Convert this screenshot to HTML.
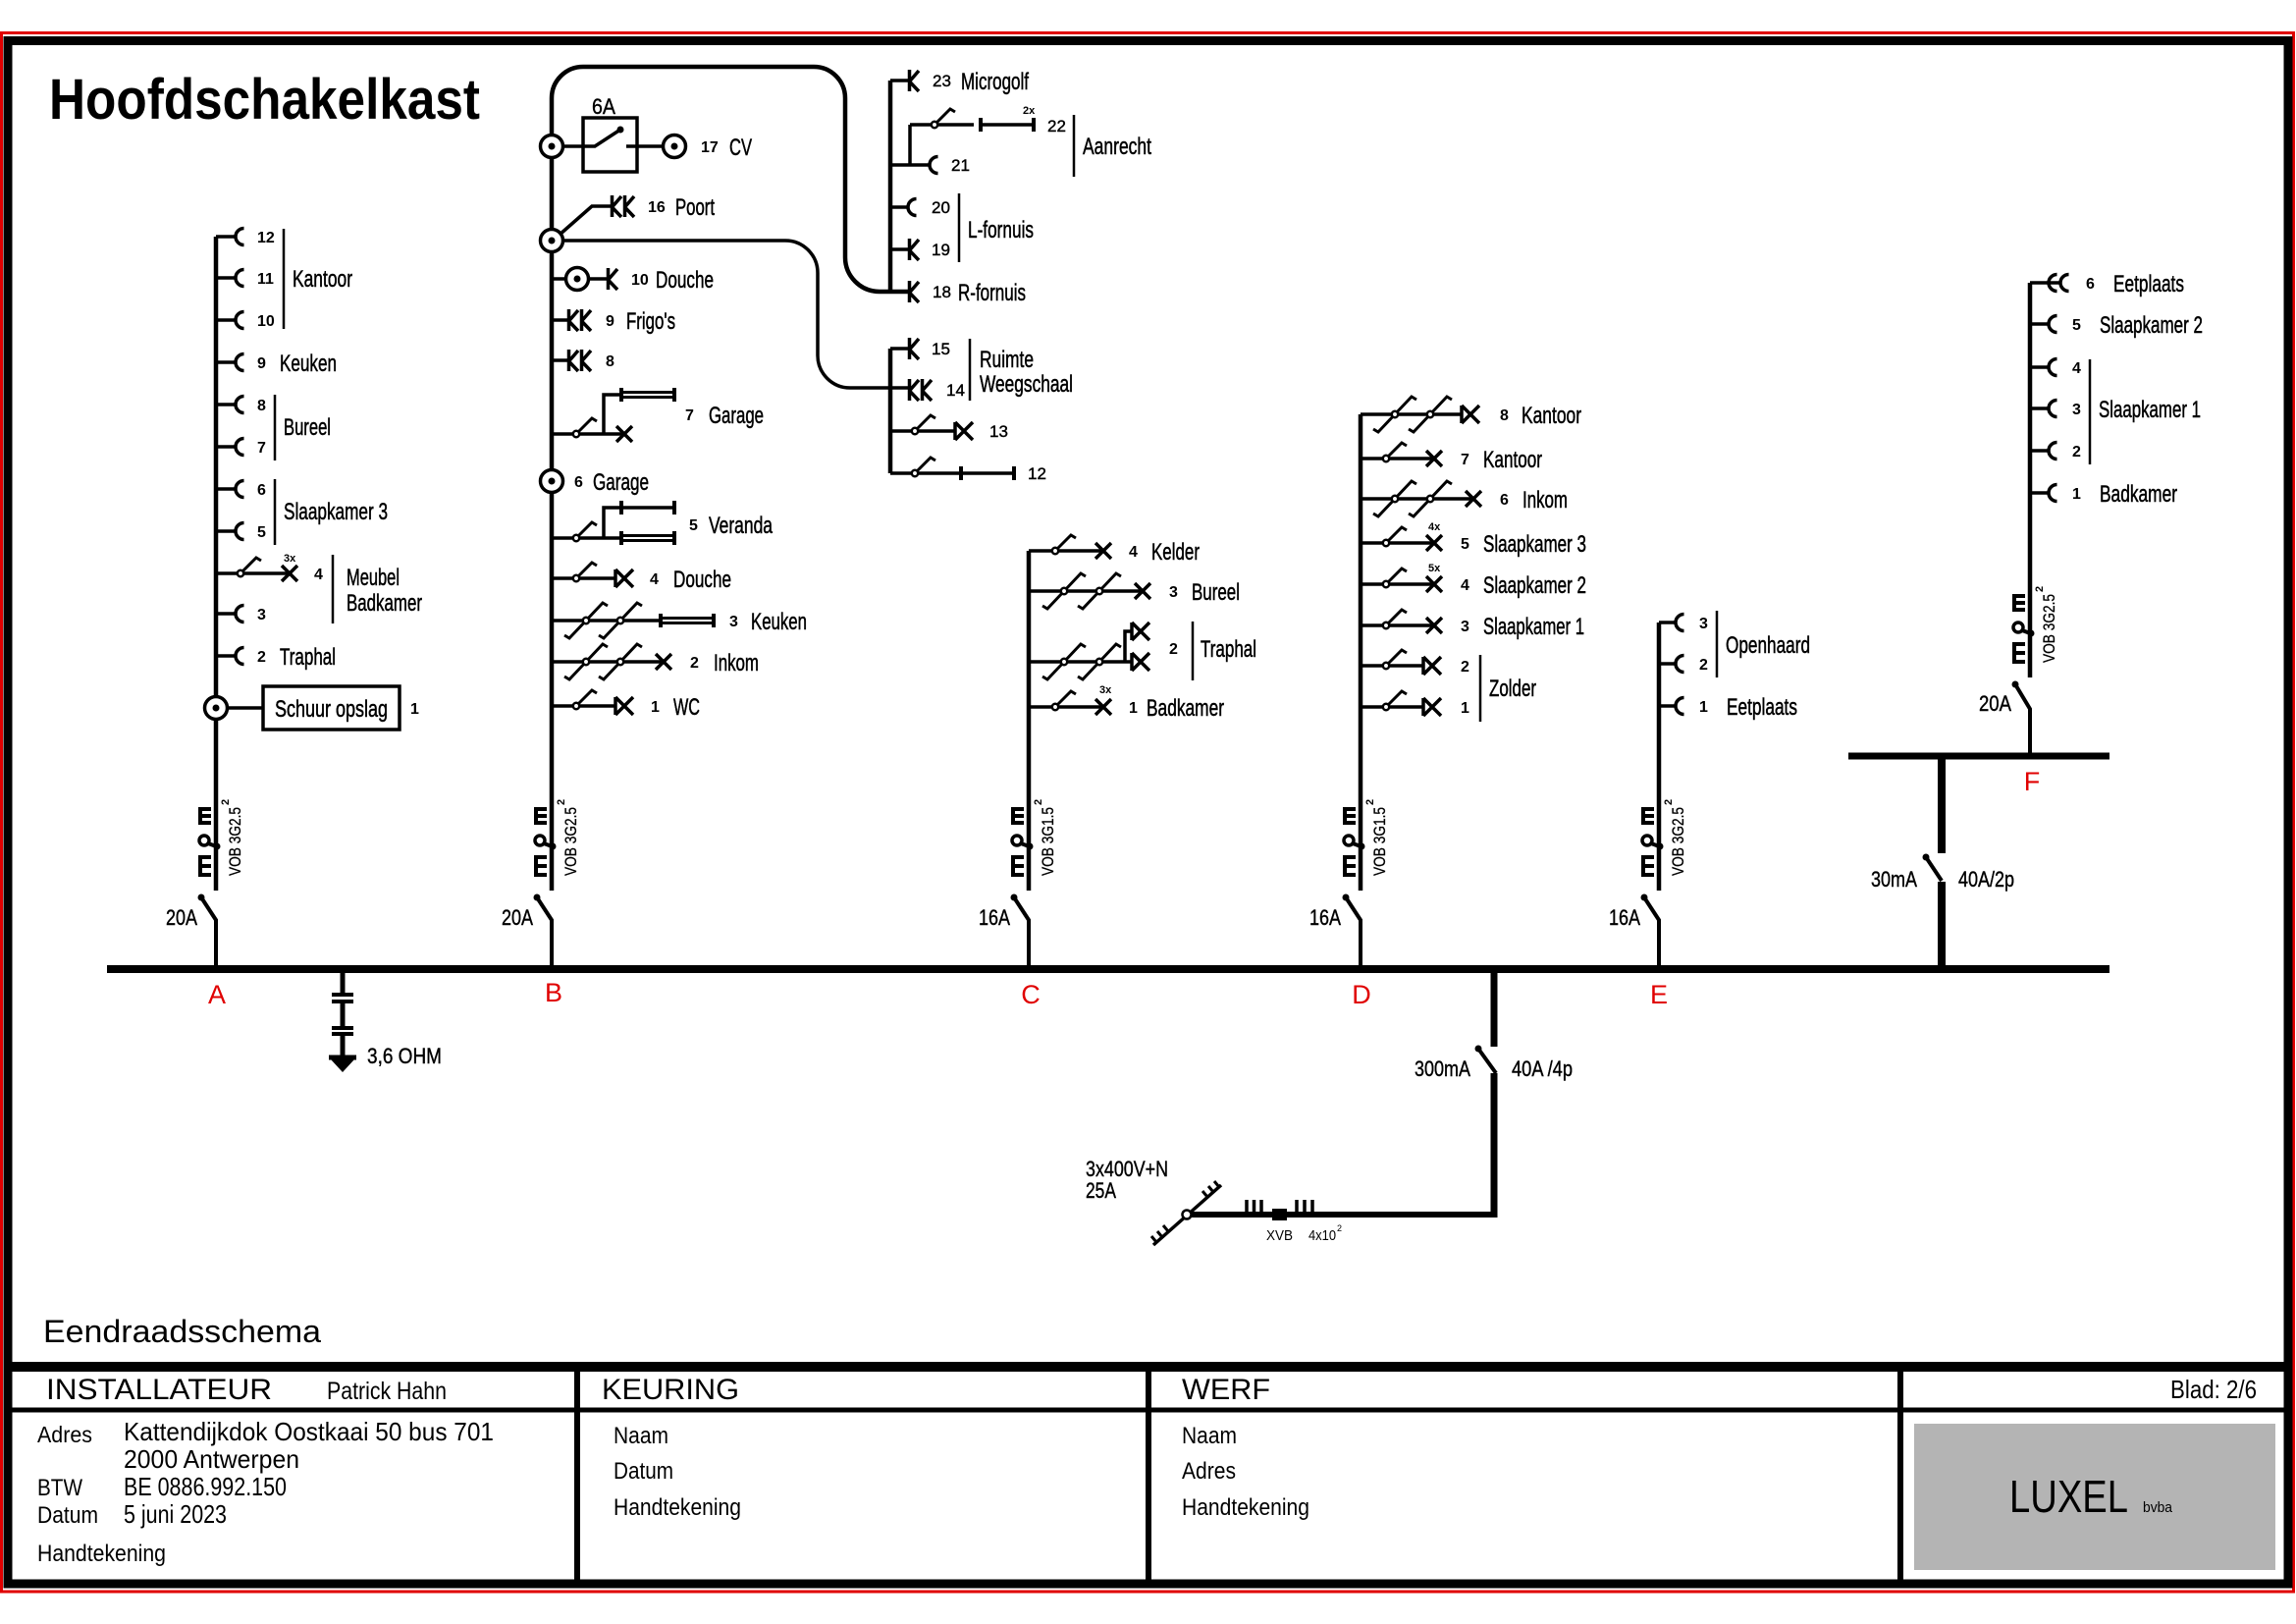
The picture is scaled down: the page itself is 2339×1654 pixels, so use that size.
<!DOCTYPE html>
<html><head><meta charset="utf-8"><style>
html,body{margin:0;padding:0;background:#fff}
svg{display:block}
text{font-family:"Liberation Sans",Arial,sans-serif;fill:#000}
.l{font-size:24px;stroke:#000;stroke-width:.5}
.n{font-size:16px;font-weight:bold}
.m{font-size:17px;stroke:#000;stroke-width:.4}
.s{font-size:11px;font-weight:bold}
.v{font-size:17px;stroke:#000;stroke-width:.3}
.b{font-size:22px;stroke:#000;stroke-width:.4}
.r{font-size:27px;fill:#e00000}
.f{font-size:24px}
.w{stroke:#000;fill:none;stroke-width:3.5}
.sep{stroke:#000;stroke-width:2.5}
</style></head><body>
<svg xmlns="http://www.w3.org/2000/svg" width="2339" height="1654" viewBox="0 0 2339 1654">
<defs>
<path id="C" d="M8.5,-8.5A8.5,8.5 0 0 0 8.5,8.5" fill="none" stroke="#000" stroke-width="3.5"/>
<path id="K" d="M1.5,-11V11M1.5,1L11,-10M1.5,1L11,11" fill="none" stroke="#000" stroke-width="3.5"/>
<g id="KK"><use href="#K"/><use href="#K" x="13"/></g>
<path id="X" d="M-8,-8L8,8M-8,8L8,-8" stroke="#000" stroke-width="3.5"/>
<path id="DX" d="M1,-9V9M1,-9L19,9M1,9L19,-9" stroke="#000" stroke-width="3.5" fill="none"/>
<g id="S"><path d="M0,0L16,-16L21,-13" fill="none" stroke="#000" stroke-width="3"/><circle r="3.2" fill="#fff" stroke="#000" stroke-width="2.5"/></g>
<g id="S2"><path d="M-22,15L-17,18L17,-18L22,-15" fill="none" stroke="#000" stroke-width="3"/><circle r="3.2" fill="#fff" stroke="#000" stroke-width="2.5"/></g>
<g id="J"><circle r="11.5" fill="#fff" stroke="#000" stroke-width="3.5"/><circle r="3.5" fill="#000"/></g>
<g id="T1" stroke="#000" fill="none"><path d="M1,-7V7M55,-7V7" stroke-width="4"/><path d="M0,0H56" stroke-width="3.5"/></g>
<g id="T2" stroke="#000" fill="none"><path d="M1,-7V7M55,-7V7" stroke-width="4"/><path d="M0,-2.5H56M0,2.5H56" stroke-width="3"/></g>
<g id="CM">
<rect x="-18" y="0" width="4" height="18"/><rect x="-18" y="0" width="13" height="4"/><rect x="-18" y="7" width="13" height="4"/><rect x="-18" y="14" width="13" height="4"/>
<circle cx="-12" cy="34" r="5" fill="none" stroke="#000" stroke-width="3.5"/>
<path d="M-8,37L3,41" stroke="#000" stroke-width="4"/><circle cx="1" cy="40" r="3.5"/>
<rect x="-18" y="49" width="4" height="22"/><rect x="-18" y="49" width="13" height="4"/><rect x="-18" y="58" width="13" height="4"/><rect x="-18" y="67" width="13" height="4"/>
</g>
<g id="BR"><path d="M0,991V937L-15,914" fill="none" stroke="#000" stroke-width="4"/><circle cx="-15" cy="914" r="3.5"/></g>
</defs>

<rect width="2339" height="1654" fill="#fff"/>
<!-- frame -->
<rect x="1.5" y="33.5" width="2335" height="1587.5" fill="none" stroke="#e00000" stroke-width="3"/>
<rect x="8" y="41.5" width="2323" height="1571.5" fill="none" stroke="#000" stroke-width="9"/>

<!-- title -->
<text x="50" y="121" font-size="58" font-weight="bold" textLength="439" lengthAdjust="spacingAndGlyphs">Hoofdschakelkast</text>

<!-- main bus -->
<path d="M109,987H2149" stroke="#000" stroke-width="8"/>
<text class="r" x="221" y="1022" text-anchor="middle">A</text>
<text class="r" x="564" y="1020" text-anchor="middle">B</text>
<text class="r" x="1050" y="1022" text-anchor="middle">C</text>
<text class="r" x="1387" y="1022" text-anchor="middle">D</text>
<text class="r" x="1690" y="1022" text-anchor="middle">E</text>
<text class="r" x="2070" y="805" text-anchor="middle">F</text>

<!-- ground -->
<path d="M349,991V1013M349,1020V1047M349,1053V1077" stroke="#000" stroke-width="5"/>
<path d="M338,1013H360M338,1020H360M338,1047H360M338,1053H360" stroke="#000" stroke-width="4"/>
<path d="M335,1077H363" stroke="#000" stroke-width="5"/>
<path d="M337,1079H361L349,1092Z"/>
<text class="b" x="374" y="1083" textLength="76" lengthAdjust="spacingAndGlyphs">3,6  OHM</text>

<!-- breakers -->
<use href="#BR" x="220"/><use href="#BR" x="562"/><use href="#BR" x="1048"/><use href="#BR" x="1386"/><use href="#BR" x="1690"/>
<text class="b" x="201" y="942" text-anchor="end" textLength="32" lengthAdjust="spacingAndGlyphs">20A</text>
<text class="b" x="543" y="942" text-anchor="end" textLength="32" lengthAdjust="spacingAndGlyphs">20A</text>
<text class="b" x="1029" y="942" text-anchor="end" textLength="32" lengthAdjust="spacingAndGlyphs">16A</text>
<text class="b" x="1366" y="942" text-anchor="end" textLength="32" lengthAdjust="spacingAndGlyphs">16A</text>
<text class="b" x="1671" y="942" text-anchor="end" textLength="32" lengthAdjust="spacingAndGlyphs">16A</text>

<!-- cable markers -->
<use href="#CM" x="220" y="822"/><use href="#CM" x="562" y="822"/><use href="#CM" x="1048" y="822"/><use href="#CM" x="1386" y="822"/><use href="#CM" x="1690" y="822"/><use href="#CM" x="2068" y="605"/>
<text class="v" transform="translate(245,892) rotate(-90)" textLength="70" lengthAdjust="spacingAndGlyphs">VOB 3G2.5</text>
<text class="s" transform="translate(233,820) rotate(-90)">2</text>
<text class="v" transform="translate(587,892) rotate(-90)" textLength="70" lengthAdjust="spacingAndGlyphs">VOB 3G2.5</text>
<text class="s" transform="translate(575,820) rotate(-90)">2</text>
<text class="v" transform="translate(1073,892) rotate(-90)" textLength="70" lengthAdjust="spacingAndGlyphs">VOB 3G1.5</text>
<text class="s" transform="translate(1061,820) rotate(-90)">2</text>
<text class="v" transform="translate(1411,892) rotate(-90)" textLength="70" lengthAdjust="spacingAndGlyphs">VOB 3G1.5</text>
<text class="s" transform="translate(1399,820) rotate(-90)">2</text>
<text class="v" transform="translate(1715,892) rotate(-90)" textLength="70" lengthAdjust="spacingAndGlyphs">VOB 3G2.5</text>
<text class="s" transform="translate(1703,820) rotate(-90)">2</text>
<text class="v" transform="translate(2093,675) rotate(-90)" textLength="70" lengthAdjust="spacingAndGlyphs">VOB 3G2.5</text>
<text class="s" transform="translate(2081,603) rotate(-90)">2</text>

<!-- ===== Circuit A ===== -->
<path d="M220,241V907" stroke="#000" stroke-width="4.5"/>
<path class="w" d="M220,241H240M220,283H240M220,326H240M220,369H240M220,412H240M220,455H240M220,498H240M220,541H240M220,625H240M220,668H240M220,584H295M232,721H268"/>
<use href="#C" x="240" y="241"/><use href="#C" x="240" y="283"/><use href="#C" x="240" y="326"/><use href="#C" x="240" y="369"/><use href="#C" x="240" y="412"/><use href="#C" x="240" y="455"/><use href="#C" x="240" y="498"/><use href="#C" x="240" y="541"/><use href="#C" x="240" y="625"/><use href="#C" x="240" y="668"/>
<use href="#S" x="245" y="584"/><use href="#X" x="295" y="584"/>
<use href="#J" x="220" y="721"/>
<rect x="268" y="699" width="139" height="44" fill="none" stroke="#000" stroke-width="3.5"/>
<text class="n" x="262" y="247">12</text><text class="n" x="262" y="289">11</text><text class="n" x="262" y="332">10</text><text class="n" x="262" y="375">9</text><text class="n" x="262" y="418">8</text><text class="n" x="262" y="461">7</text><text class="n" x="262" y="504">6</text><text class="n" x="262" y="547">5</text><text class="n" x="320" y="590">4</text><text class="n" x="262" y="631">3</text><text class="n" x="262" y="674">2</text><text class="n" x="418" y="727">1</text>
<text class="s" x="289" y="572">3x</text>
<path class="sep" d="M289,233V335M280,402V469M280,488V555M339,565V635"/>
<text class="l" x="298" y="292" textLength="61" lengthAdjust="spacingAndGlyphs">Kantoor</text>
<text class="l" x="285" y="378" textLength="58" lengthAdjust="spacingAndGlyphs">Keuken</text>
<text class="l" x="289" y="443" textLength="48" lengthAdjust="spacingAndGlyphs">Bureel</text>
<text class="l" x="289" y="529" textLength="106" lengthAdjust="spacingAndGlyphs">Slaapkamer 3</text>
<text class="l" x="353" y="596" textLength="54" lengthAdjust="spacingAndGlyphs">Meubel</text>
<text class="l" x="353" y="622" textLength="77" lengthAdjust="spacingAndGlyphs">Badkamer</text>
<text class="l" x="285" y="677" textLength="57" lengthAdjust="spacingAndGlyphs">Traphal</text>
<text class="l" x="280" y="730" textLength="115" lengthAdjust="spacingAndGlyphs">Schuur  opslag</text>

<!-- ===== Circuit B ===== -->
<path d="M562,907V100A32,32 0 0 1 594,68H829A32,32 0 0 1 861,100V262A35,35 0 0 0 896,297H925" fill="none" stroke="#000" stroke-width="4.5"/>
<path class="w" d="M572,245H800A33,33 0 0 1 833,278V362A33,33 0 0 0 866,395H925"/>
<path class="w" d="M573,149H606L632,132M638,149H676M570,239L603,210H622M562,284H577M600,284H618M562,326H578M562,367H578M562,442H636M615,442V402H632M562,548H632M615,548V517H632M562,589H626M562,632H672M562,674H676M562,719H626"/>
<circle cx="632" cy="132" r="3.5"/>
<rect x="594" y="120" width="55" height="55" fill="none" stroke="#000" stroke-width="3.5"/>
<use href="#J" x="562" y="149"/><use href="#J" x="687" y="149"/><use href="#J" x="562" y="245"/><use href="#J" x="588" y="284"/><use href="#J" x="562" y="490"/>
<use href="#KK" x="622" y="210"/><use href="#K" x="618" y="284"/><use href="#KK" x="578" y="326"/><use href="#KK" x="578" y="367"/>
<use href="#S" x="587" y="442"/><use href="#T2" x="632" y="402"/><use href="#X" x="636" y="442"/>
<use href="#S" x="587" y="548"/><use href="#T1" x="632" y="517"/><use href="#T2" x="632" y="548"/>
<use href="#S" x="587" y="589"/><use href="#DX" x="626" y="589"/>
<use href="#S2" x="597" y="632"/><use href="#S2" x="632" y="632"/><use href="#T2" x="672" y="632"/>
<use href="#S2" x="597" y="674"/><use href="#S2" x="632" y="674"/><use href="#X" x="676" y="674"/>
<use href="#S" x="587" y="719"/><use href="#DX" x="626" y="719"/>
<text class="b" x="603" y="116" textLength="24" lengthAdjust="spacingAndGlyphs">6A</text>
<text class="n" x="714" y="155">17</text><text class="n" x="660" y="216">16</text><text class="n" x="643" y="290">10</text><text class="n" x="617" y="332">9</text><text class="n" x="617" y="373">8</text><text class="n" x="698" y="428">7</text><text class="n" x="585" y="496">6</text><text class="n" x="702" y="540">5</text><text class="n" x="662" y="595">4</text><text class="n" x="743" y="638">3</text><text class="n" x="703" y="680">2</text><text class="n" x="663" y="725">1</text>
<text class="l" x="743" y="158" textLength="23" lengthAdjust="spacingAndGlyphs">CV</text>
<text class="l" x="688" y="219" textLength="40" lengthAdjust="spacingAndGlyphs">Poort</text>
<text class="l" x="668" y="293" textLength="59" lengthAdjust="spacingAndGlyphs">Douche</text>
<text class="l" x="638" y="335" textLength="50" lengthAdjust="spacingAndGlyphs">Frigo's</text>
<text class="l" x="722" y="431" textLength="56" lengthAdjust="spacingAndGlyphs">Garage</text>
<text class="l" x="604" y="499" textLength="57" lengthAdjust="spacingAndGlyphs">Garage</text>
<text class="l" x="722" y="543" textLength="65" lengthAdjust="spacingAndGlyphs">Veranda</text>
<text class="l" x="686" y="598" textLength="59" lengthAdjust="spacingAndGlyphs">Douche</text>
<text class="l" x="765" y="641" textLength="57" lengthAdjust="spacingAndGlyphs">Keuken</text>
<text class="l" x="727" y="683" textLength="46" lengthAdjust="spacingAndGlyphs">Inkom</text>
<text class="l" x="686" y="728" textLength="27" lengthAdjust="spacingAndGlyphs">WC</text>

<!-- ===== Group 23-18 / 15-12 ===== -->
<path d="M907,82V297M907,355V482" stroke="#000" stroke-width="4.5"/>
<path class="w" d="M907,82H925M907,168H927M927,127V168M927,127H992M927,168H947M907,211H925M907,254H925M907,355H925M907,439H972M907,482H978"/>
<use href="#K" x="925" y="82"/><use href="#S" x="952" y="127"/><use href="#T1" x="998" y="127"/><use href="#C" x="947" y="168"/><use href="#C" x="925" y="211"/><use href="#K" x="925" y="254"/><use href="#K" x="925" y="297"/>
<use href="#K" x="925" y="355"/><use href="#KK" x="925" y="397"/><use href="#S" x="932" y="439"/><use href="#DX" x="972" y="439"/><use href="#S" x="932" y="482"/><use href="#T1" x="978" y="482"/>
<text class="s" x="1042" y="116">2x</text>
<text class="m" x="950" y="88">23</text><text class="m" x="1067" y="134">22</text><text class="m" x="969" y="174">21</text><text class="m" x="949" y="217">20</text><text class="m" x="949" y="260">19</text><text class="m" x="950" y="303">18</text><text class="m" x="949" y="361">15</text><text class="m" x="964" y="403">14</text><text class="m" x="1008" y="445">13</text><text class="m" x="1047" y="488">12</text>
<path class="sep" d="M1094,117V180M977,197V267M988,345V408"/>
<text class="l" x="979" y="91" textLength="69" lengthAdjust="spacingAndGlyphs">Microgolf</text>
<text class="l" x="1103" y="157" textLength="70" lengthAdjust="spacingAndGlyphs">Aanrecht</text>
<text class="l" x="986" y="242" textLength="67" lengthAdjust="spacingAndGlyphs">L-fornuis</text>
<text class="l" x="976" y="306" textLength="69" lengthAdjust="spacingAndGlyphs">R-fornuis</text>
<text class="l" x="998" y="374" textLength="55" lengthAdjust="spacingAndGlyphs">Ruimte</text>
<text class="l" x="998" y="399" textLength="95" lengthAdjust="spacingAndGlyphs">Weegschaal</text>

<!-- ===== Circuit C ===== -->
<path d="M1048,561V907" stroke="#000" stroke-width="4.5"/>
<path class="w" d="M1048,561H1124M1048,602H1164M1048,674H1152M1146,674V643H1152M1048,720H1124"/>
<use href="#S" x="1075" y="561"/><use href="#X" x="1124" y="561"/>
<use href="#S2" x="1084" y="602"/><use href="#S2" x="1120" y="602"/><use href="#X" x="1164" y="602"/>
<use href="#S2" x="1084" y="674"/><use href="#S2" x="1120" y="674"/><use href="#DX" x="1152" y="643"/><use href="#DX" x="1152" y="674"/>
<use href="#S" x="1075" y="720"/><use href="#X" x="1124" y="720"/>
<text class="s" x="1120" y="706">3x</text>
<text class="n" x="1150" y="567">4</text><text class="n" x="1191" y="608">3</text><text class="n" x="1191" y="666">2</text><text class="n" x="1150" y="726">1</text>
<path class="sep" d="M1215,633V693"/>
<text class="l" x="1173" y="570" textLength="49" lengthAdjust="spacingAndGlyphs">Kelder</text>
<text class="l" x="1214" y="611" textLength="49" lengthAdjust="spacingAndGlyphs">Bureel</text>
<text class="l" x="1223" y="669" textLength="57" lengthAdjust="spacingAndGlyphs">Traphal</text>
<text class="l" x="1168" y="729" textLength="79" lengthAdjust="spacingAndGlyphs">Badkamer</text>

<!-- ===== Circuit D ===== -->
<path d="M1386,422V907" stroke="#000" stroke-width="4.5"/>
<path class="w" d="M1386,422H1488M1386,467H1461M1386,508H1501M1386,553H1461M1386,595H1461M1386,637H1461M1386,678H1449M1386,720H1449"/>
<use href="#S2" x="1421" y="422"/><use href="#S2" x="1457" y="422"/><use href="#DX" x="1488" y="422"/>
<use href="#S" x="1412" y="467"/><use href="#X" x="1461" y="467"/>
<use href="#S2" x="1421" y="508"/><use href="#S2" x="1457" y="508"/><use href="#X" x="1501" y="508"/>
<use href="#S" x="1412" y="553"/><use href="#X" x="1461" y="553"/>
<use href="#S" x="1412" y="595"/><use href="#X" x="1461" y="595"/>
<use href="#S" x="1412" y="637"/><use href="#X" x="1461" y="637"/>
<use href="#S" x="1412" y="678"/><use href="#DX" x="1449" y="678"/>
<use href="#S" x="1412" y="720"/><use href="#DX" x="1449" y="720"/>
<text class="s" x="1455" y="540">4x</text><text class="s" x="1455" y="582">5x</text>
<text class="n" x="1528" y="428">8</text><text class="n" x="1488" y="473">7</text><text class="n" x="1528" y="514">6</text><text class="n" x="1488" y="559">5</text><text class="n" x="1488" y="601">4</text><text class="n" x="1488" y="643">3</text><text class="n" x="1488" y="684">2</text><text class="n" x="1488" y="726">1</text>
<path class="sep" d="M1508,667V735"/>
<text class="l" x="1550" y="431" textLength="61" lengthAdjust="spacingAndGlyphs">Kantoor</text>
<text class="l" x="1511" y="476" textLength="60" lengthAdjust="spacingAndGlyphs">Kantoor</text>
<text class="l" x="1551" y="517" textLength="46" lengthAdjust="spacingAndGlyphs">Inkom</text>
<text class="l" x="1511" y="562" textLength="105" lengthAdjust="spacingAndGlyphs">Slaapkamer 3</text>
<text class="l" x="1511" y="604" textLength="105" lengthAdjust="spacingAndGlyphs">Slaapkamer 2</text>
<text class="l" x="1511" y="646" textLength="103" lengthAdjust="spacingAndGlyphs">Slaapkamer 1</text>
<text class="l" x="1517" y="709" textLength="48" lengthAdjust="spacingAndGlyphs">Zolder</text>

<!-- ===== Circuit E ===== -->
<path d="M1690,634V907" stroke="#000" stroke-width="4.5"/>
<path class="w" d="M1690,634H1707M1690,676H1707M1690,719H1707"/>
<use href="#C" x="1707" y="634"/><use href="#C" x="1707" y="676"/><use href="#C" x="1707" y="719"/>
<text class="n" x="1731" y="640">3</text><text class="n" x="1731" y="682">2</text><text class="n" x="1731" y="725">1</text>
<path class="sep" d="M1749,622V690"/>
<text class="l" x="1758" y="665" textLength="86" lengthAdjust="spacingAndGlyphs">Openhaard</text>
<text class="l" x="1759" y="728" textLength="72" lengthAdjust="spacingAndGlyphs">Eetplaats</text>

<!-- ===== Circuit F ===== -->
<path d="M2068,288V690" stroke="#000" stroke-width="4.5"/>
<path class="w" d="M2068,288H2099M2068,330H2087M2068,374H2087M2068,416H2087M2068,459H2087M2068,502H2087"/>
<use href="#C" x="2087" y="288"/><use href="#C" x="2099" y="288"/><use href="#C" x="2087" y="330"/><use href="#C" x="2087" y="374"/><use href="#C" x="2087" y="416"/><use href="#C" x="2087" y="459"/><use href="#C" x="2087" y="502"/>
<text class="n" x="2125" y="294">6</text><text class="n" x="2111" y="336">5</text><text class="n" x="2111" y="380">4</text><text class="n" x="2111" y="422">3</text><text class="n" x="2111" y="465">2</text><text class="n" x="2111" y="508">1</text>
<path class="sep" d="M2129,366V473"/>
<text class="l" x="2153" y="297" textLength="72" lengthAdjust="spacingAndGlyphs">Eetplaats</text>
<text class="l" x="2139" y="339" textLength="105" lengthAdjust="spacingAndGlyphs">Slaapkamer 2</text>
<text class="l" x="2138" y="425" textLength="104" lengthAdjust="spacingAndGlyphs">Slaapkamer 1</text>
<text class="l" x="2139" y="511" textLength="79" lengthAdjust="spacingAndGlyphs">Badkamer</text>
<path d="M2068,770V722L2053,697" fill="none" stroke="#000" stroke-width="4"/><circle cx="2053" cy="697" r="3.5"/>
<text class="b" x="2049" y="724" text-anchor="end" textLength="33" lengthAdjust="spacingAndGlyphs">20A</text>
<path d="M1883,770H2149" stroke="#000" stroke-width="7"/>
<path d="M1978,773V869M1978,898V987" stroke="#000" stroke-width="8"/>
<path d="M1978,897L1962,873" stroke="#000" stroke-width="4"/><circle cx="1962" cy="873" r="3.5"/>
<text class="b" x="1906" y="903" textLength="47" lengthAdjust="spacingAndGlyphs">30mA</text>
<text class="b" x="1995" y="903" textLength="57" lengthAdjust="spacingAndGlyphs">40A/2p</text>

<!-- ===== Main feed ===== -->
<path d="M1522,991V1066M1522,1093V1240" stroke="#000" stroke-width="7"/>
<path d="M1524,1093L1506,1068" stroke="#000" stroke-width="4"/><circle cx="1506" cy="1068" r="3.5"/>
<path d="M1525,1237H1209" stroke="#000" stroke-width="6"/>
<text class="b" x="1441" y="1096" textLength="57" lengthAdjust="spacingAndGlyphs">300mA</text>
<text class="b" x="1540" y="1096" textLength="62" lengthAdjust="spacingAndGlyphs">40A /4p</text>
<path d="M1175,1268L1244,1207" stroke="#000" stroke-width="3.5"/>
<path d="M1230,1219l-5,-6M1236,1214l-5,-6M1242,1209l-5,-6M1178,1265l-5,-6M1184,1260l-5,-6M1190,1254l-5,-6" stroke="#000" stroke-width="3"/>
<circle cx="1209" cy="1237" r="4.5" fill="#fff" stroke="#000" stroke-width="2.5"/>
<path d="M1270,1222V1237M1277.5,1222V1237M1285,1222V1237M1321,1222V1237M1329,1222V1237M1337,1222V1237" stroke="#000" stroke-width="3.5"/>
<rect x="1296" y="1231" width="15" height="12"/>
<text class="b" x="1106" y="1198" textLength="84" lengthAdjust="spacingAndGlyphs">3x400V+N</text>
<text class="b" x="1106" y="1220" textLength="31" lengthAdjust="spacingAndGlyphs">25A</text>
<text x="1290" y="1263" font-size="15" textLength="27" lengthAdjust="spacingAndGlyphs">XVB</text>
<text x="1333" y="1263" font-size="15" textLength="28" lengthAdjust="spacingAndGlyphs">4x10</text>
<text x="1362" y="1254" font-size="9">2</text>

<!-- ===== Footer ===== -->
<text x="44" y="1367" font-size="32" textLength="283" lengthAdjust="spacingAndGlyphs">Eendraadsschema</text>
<path d="M8,1392H2331" stroke="#000" stroke-width="10"/>
<path d="M8,1436H2331" stroke="#000" stroke-width="5"/>
<path d="M588,1392V1613M1170,1392V1613M1936,1392V1613" stroke="#000" stroke-width="6"/>
<rect x="1950" y="1450" width="368" height="149" fill="#b4b4b4"/>
<text x="47" y="1425" font-size="30" textLength="230" lengthAdjust="spacingAndGlyphs">INSTALLATEUR</text>
<text x="333" y="1425" font-size="25" textLength="122" lengthAdjust="spacingAndGlyphs">Patrick Hahn</text>
<text x="613" y="1425" font-size="30" textLength="140" lengthAdjust="spacingAndGlyphs">KEURING</text>
<text x="1204" y="1425" font-size="30" textLength="90" lengthAdjust="spacingAndGlyphs">WERF</text>
<text x="2211" y="1424" font-size="26" textLength="88" lengthAdjust="spacingAndGlyphs">Blad:  2/6</text>
<text x="38" y="1469" font-size="23" textLength="56" lengthAdjust="spacingAndGlyphs">Adres</text>
<text x="126" y="1467" font-size="26" textLength="377" lengthAdjust="spacingAndGlyphs">Kattendijkdok Oostkaai 50 bus 701</text>
<text x="126" y="1495" font-size="26" textLength="179" lengthAdjust="spacingAndGlyphs">2000 Antwerpen</text>
<text x="38" y="1523" font-size="24" textLength="46" lengthAdjust="spacingAndGlyphs">BTW</text>
<text x="126" y="1523" font-size="26" textLength="166" lengthAdjust="spacingAndGlyphs">BE 0886.992.150</text>
<text x="38" y="1551" font-size="24" textLength="62" lengthAdjust="spacingAndGlyphs">Datum</text>
<text x="126" y="1551" font-size="26" textLength="105" lengthAdjust="spacingAndGlyphs">5 juni 2023</text>
<text x="38" y="1590" font-size="24" textLength="131" lengthAdjust="spacingAndGlyphs">Handtekening</text>
<text x="625" y="1470" font-size="24" textLength="56" lengthAdjust="spacingAndGlyphs">Naam</text>
<text x="625" y="1506" font-size="24" textLength="61" lengthAdjust="spacingAndGlyphs">Datum</text>
<text x="625" y="1543" font-size="24" textLength="130" lengthAdjust="spacingAndGlyphs">Handtekening</text>
<text x="1204" y="1470" font-size="24" textLength="56" lengthAdjust="spacingAndGlyphs">Naam</text>
<text x="1204" y="1506" font-size="24" textLength="55" lengthAdjust="spacingAndGlyphs">Adres</text>
<text x="1204" y="1543" font-size="24" textLength="130" lengthAdjust="spacingAndGlyphs">Handtekening</text>
<text x="2047" y="1540" font-size="46" textLength="121" lengthAdjust="spacingAndGlyphs">LUXEL</text>
<text x="2183" y="1540" font-size="15" textLength="30" lengthAdjust="spacingAndGlyphs">bvba</text>
</svg>
</body></html>
